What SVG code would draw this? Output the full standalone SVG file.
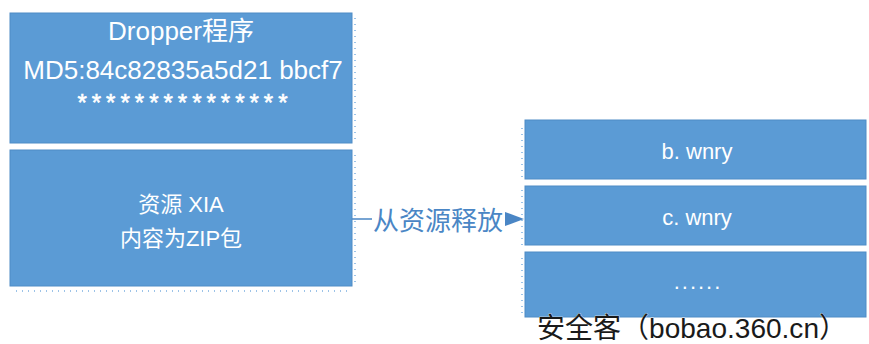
<svg xmlns="http://www.w3.org/2000/svg" width="869" height="344" viewBox="0 0 869 344">
<defs>
<style>
.box{fill:#5b9bd5;stroke:#4f8cc6;stroke-width:1}
.t{fill:#ffffff;font-family:"Liberation Sans","Noto Sans CJK SC",sans-serif;text-anchor:middle}
.tick{stroke:#9cc3e8;stroke-width:2;stroke-dasharray:1 5;fill:none}
</style>
</defs>
<rect width="869" height="344" fill="#ffffff"/>
<g id="dropper">
<rect class="box" x="10" y="13" width="342" height="130"/>
<path class="tick" d="M355,18 V143"/>
<text class="t" x="181" y="40" font-size="26">Dropper程序</text>
<text class="t" x="183" y="79" font-size="26">MD5:84c82835a5d21 bbcf7</text>
<text class="t" x="185" y="111" font-size="24" letter-spacing="5" stroke="#ffffff" stroke-width="0.6">***************</text>
</g>
<g id="resource">
<rect class="box" x="10" y="150" width="342" height="136"/>
<path class="tick" d="M355,155 V287"/>
<path class="tick" d="M16,291 H352"/>
<text class="t" x="181" y="212" font-size="22">资源 XIA</text>
<text class="t" x="181" y="246" font-size="22">内容为ZIP包</text>
</g>
<g id="bwnry">
<rect class="box" x="525" y="120" width="341" height="59"/>
<path class="tick" d="M522,128 V179"/>
<text class="t" x="697" y="159" font-size="22">b. wnry</text>
</g>
<g id="cwnry">
<rect class="box" x="525" y="186" width="341" height="59"/>
<path class="tick" d="M522,190 V245"/>
<text class="t" x="697" y="225" font-size="22">c. wnry</text>
</g>
<g id="more">
<rect class="box" x="525" y="252" width="341" height="65"/>
<path class="tick" d="M522,258 V317"/>
<text class="t" x="698" y="289" font-size="22" letter-spacing="2">......</text>
</g>
<g id="connectors">
<path d="M352,219 H372" stroke="#4a86c5" stroke-width="1.5" fill="none"/>
<path d="M505,212 L524,219 L505,226 Z" fill="#4a86c5"/>
<text x="438" y="230" font-size="26" fill="#4a86c5" text-anchor="middle" font-family="'Noto Sans CJK SC',sans-serif">从资源释放</text>
</g>
<text x="537" y="338" font-size="28" fill="#1a1a1a" stroke="#ffffff" stroke-width="0.6" paint-order="stroke" font-family="'Liberation Sans','Noto Sans CJK SC',sans-serif" textLength="310" lengthAdjust="spacingAndGlyphs">安全客（bobao.360.cn）</text>
</svg>
